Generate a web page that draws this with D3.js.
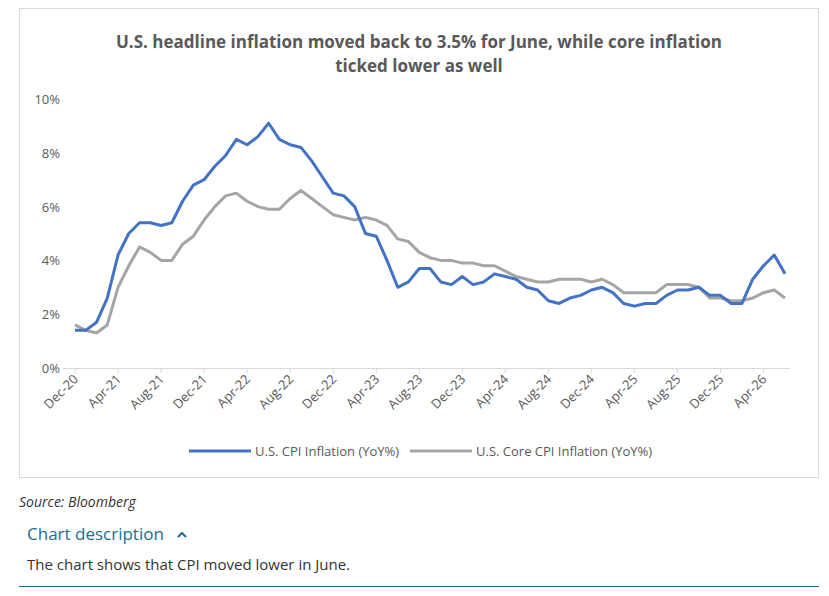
<!DOCTYPE html>
<html><head><meta charset="utf-8">
<script src="https://cdn.jsdelivr.net/npm/d3@7"></script>
<style>
body{margin:0;background:#fff;font-family:"Open Sans",sans-serif;}
</style></head><body>
<svg id="c" width="829" height="596"></svg>
<script>
var cpi = [1.4,
  1.4,1.7,2.6,4.2,5.0,5.4,5.4,5.3,5.4,6.2,6.8,7.0,
  7.5,7.9,8.5,8.3,8.6,9.1,8.5,8.3,8.2,7.7,7.1,6.5,
  6.4,6.0,5.0,4.9,4.0,3.0,3.2,3.7,3.7,3.2,3.1,3.4,
  3.1,3.2,3.5,3.4,3.3,3.0,2.9,2.5,2.4,2.6,2.7,2.9,
  3.0,2.8,2.4,2.3,2.4,2.4,2.7,2.9,2.9,3.0,2.7,2.7,
  2.4,2.4,3.3,3.8,4.2,3.5];
var core = [1.6,
  1.4,1.3,1.6,3.0,3.8,4.5,4.3,4.0,4.0,4.6,4.9,5.5,
  6.0,6.4,6.5,6.2,6.0,5.9,5.9,6.3,6.6,6.3,6.0,5.7,
  5.6,5.5,5.6,5.5,5.3,4.8,4.7,4.3,4.1,4.0,4.0,3.9,
  3.9,3.8,3.8,3.6,3.4,3.3,3.2,3.2,3.3,3.3,3.3,3.2,
  3.3,3.1,2.8,2.8,2.8,2.8,3.1,3.1,3.1,3.0,2.6,2.6,
  2.5,2.5,2.6,2.8,2.9,2.6];
var yTicks = [0,2,4,6,8,10];
var monthNames = ['Jan','Feb','Mar','Apr','May','Jun','Jul','Aug','Sep','Oct','Nov','Dec'];

// month index 0 = Dec-20
function label(i) {
  var m = (11 + i) % 12, y = 20 + Math.floor((11 + i) / 12);
  return monthNames[m] + '-' + y;
}

var svg = d3.select('#c');
svg.append('rect').attr('x', 19.5).attr('y', 8.5).attr('width', 799).attr('height', 469)
  .attr('fill', 'none').attr('stroke', '#d9d9d9');

svg.append('text').attr('x', 419).attr('y', 48).attr('text-anchor', 'middle')
  .attr('font-size', 17).attr('font-weight', 'bold').attr('fill', '#595959')
  .text('U.S. headline inflation moved back to 3.5% for June, while core inflation');
svg.append('text').attr('x', 419).attr('y', 72).attr('text-anchor', 'middle')
  .attr('font-size', 17).attr('font-weight', 'bold').attr('fill', '#595959')
  .text('ticked lower as well');

var x = d3.scaleLinear().domain([0, cpi.length - 1]).range([75, 785]);
var y = d3.scaleLinear().domain([0, 10]).range([368, 99]);

svg.selectAll('.yl').data(yTicks).enter().append('text')
  .attr('x', 60).attr('y', function(d) { return y(d) + 5; })
  .attr('text-anchor', 'end').attr('font-size', 13).attr('fill', '#595959')
  .text(function(d) { return d + '%'; });

svg.append('line').attr('x1', 63).attr('x2', 790).attr('y1', 368.5).attr('y2', 368.5)
  .attr('stroke', '#d9d9d9');

var xt = d3.range(0, cpi.length, 4);
svg.selectAll('.xt').data(xt).enter().append('line')
  .attr('x1', function(d) { return x(d); }).attr('x2', function(d) { return x(d); })
  .attr('y1', 368).attr('y2', 373).attr('stroke', '#d9d9d9');
svg.selectAll('.xl').data(xt).enter().append('text')
  .attr('transform', function(d) { return 'translate(' + (x(d) + 4) + ',380) rotate(-45)'; })
  .attr('text-anchor', 'end').attr('font-size', 13).attr('fill', '#595959')
  .text(label);

var line = d3.line().x(function(d, i) { return x(i); }).y(function(d) { return y(d); });
svg.append('path').datum(core).attr('d', line).attr('fill', 'none')
  .attr('stroke', '#a5a5a5').attr('stroke-width', 3).attr('stroke-linejoin', 'round');
svg.append('path').datum(cpi).attr('d', line).attr('fill', 'none')
  .attr('stroke', '#4472c4').attr('stroke-width', 3).attr('stroke-linejoin', 'round');

var leg = [['U.S. CPI Inflation (YoY%)', '#4472c4', 189], ['U.S. Core CPI Inflation (YoY%)', '#a5a5a5', 410]];
leg.forEach(function(l) {
  svg.append('line').attr('x1', l[2]).attr('x2', l[2] + 62).attr('y1', 451).attr('y2', 451)
    .attr('stroke', l[1]).attr('stroke-width', 3);
  svg.append('text').attr('x', l[2] + 66).attr('y', 456).attr('font-size', 13)
    .attr('fill', '#595959').text(l[0]);
});

svg.append('text').attr('x', 19).attr('y', 507).attr('font-size', 14).attr('font-style', 'italic')
  .attr('fill', '#333').text('Source: Bloomberg');
svg.append('text').attr('x', 27).attr('y', 540).attr('font-size', 17)
  .attr('fill', '#1a6e8e').text('Chart description');
svg.append('path').attr('d', 'M178,537 l4,-4 l4,4').attr('fill', 'none')
  .attr('stroke', '#1a6e8e').attr('stroke-width', 2);
svg.append('text').attr('x', 27).attr('y', 570).attr('font-size', 15)
  .attr('fill', '#333').text('The chart shows that CPI moved lower in June.');
svg.append('line').attr('x1', 19).attr('x2', 819).attr('y1', 586.5).attr('y2', 586.5)
  .attr('stroke', '#1a6e8e').attr('stroke-width', 1);
</script></body></html>
